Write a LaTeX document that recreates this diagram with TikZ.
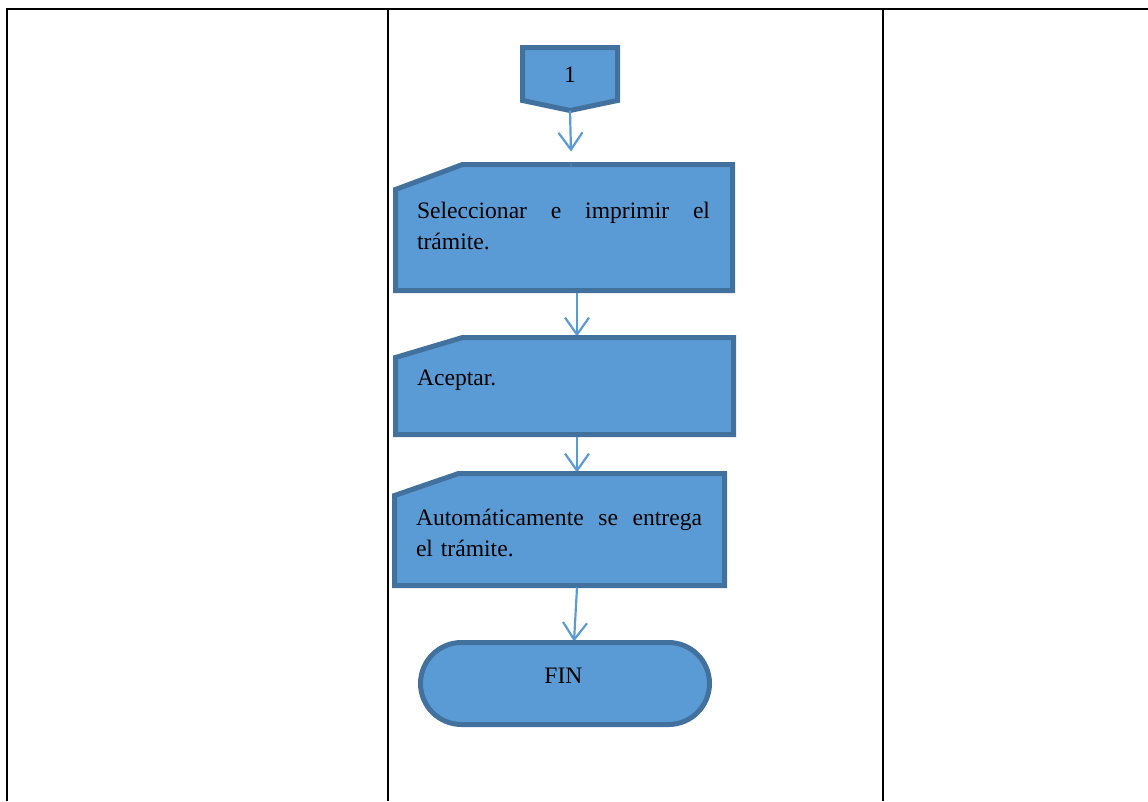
\documentclass[tikz,border=0pt]{standalone}
\usepackage{fontspec}
\setmainfont{Liberation Serif}
\usetikzlibrary{arrows.meta,calc}
\definecolor{boxfill}{HTML}{5B9BD5}
\definecolor{boxline}{HTML}{41719C}
\definecolor{flowline}{HTML}{5B9BD5}
\tikzset{
  frame/.style={draw=none,minimum width=#1,inner sep=0pt,outer sep=0pt},
  shapeline/.style={draw=boxline,fill=boxfill,line width=5pt,line join=miter},
  arr/.style={draw=flowline,line width=2.2pt,-{Straight Barb[length=17pt,width=24pt,line width=2.2pt]}},
  rule/.style={line width=2.4pt,black},
  txt/.style={inner sep=0pt,outer sep=0pt,font=\fontsize{23.6}{31.5}\selectfont,align=left},
}
\begin{document}
\begin{tikzpicture}[x=1pt,y=-1pt]
\useasboundingbox (0,0) rectangle (1148,801);

% table rules
\draw[rule] (7,801) -- (7,9) -- (1148,9);
\draw[rule] (388,9) -- (388,801);
\draw[rule] (883,9) -- (883,801);

% off-page connector
\node[frame=95pt,minimum height=63pt] (c1) at (570,79) {};
\draw[shapeline] (c1.north west) -- (c1.north east) -- ($(c1.north east)+(0,53)$)
  -- (c1.south) -- ($(c1.north west)+(0,53)$) -- cycle;
\node[txt,anchor=base] (c1t) at (570,82) {1};

% manual input steps
\node[frame=337pt,minimum height=126pt] (s1) at (564,227.5) {};
\node[frame=338pt,minimum height=97pt] (s2) at (564.5,386) {};
\node[frame=330pt,minimum height=112pt] (s3) at (559.5,529.5) {};

% terminator
\node[frame=289pt,minimum height=82pt] (fin) at (565,683.5) {};

% connectors
\draw[arr] (c1.south) -- ($(s1.north)+(7,-13)$);
\draw[shapeline] (s1.south west) -- ($(s1.north west)+(0,25)$) -- ($(s1.north west)+(67,0)$)
  -- (s1.north east) -- (s1.south east) -- cycle;
\draw[arr,opacity=0.3] ($(s1.north)+(7,-2)$) -- ($(s1.north)+(7,23)$);
\node[txt,text width=293pt,anchor=base west] (s1t) at (417,218)
  {Seleccionar\hfill e\hfill imprimir\hfill el\\trámite.};

\draw[arr] ($(s1.south)+(13,2)$) -- ($(s2.north)+(12.5,-1)$);
\draw[shapeline] (s2.south west) -- ($(s2.north west)+(0,20)$) -- ($(s2.north west)+(67,0)$)
  -- (s2.north east) -- (s2.south east) -- cycle;
\node[txt,anchor=base west] (s2t) at (417,385) {Aceptar.};

\draw[arr] ($(s2.south)+(12.5,2)$) -- ($(s3.north)+(17.5,-1)$);
\draw[shapeline] (s3.south west) -- ($(s3.north west)+(0,22)$) -- ($(s3.north west)+(64,0)$)
  -- (s3.north east) -- (s3.south east) -- cycle;
\node[txt,text width=286pt,anchor=base west] (s3t) at (416,525)
  {Automáticamente\hfill se\hfill entrega\\el trámite.};

\draw[arr] ($(s3.south)+(17.5,2)$) -- ($(fin.north)+(9,-1)$);
\draw[shapeline,rounded corners=41pt] (fin.south west) rectangle (fin.north east);
\node[txt,anchor=base] (fint) at (563.5,683) {FIN};
\end{tikzpicture}
\end{document}
